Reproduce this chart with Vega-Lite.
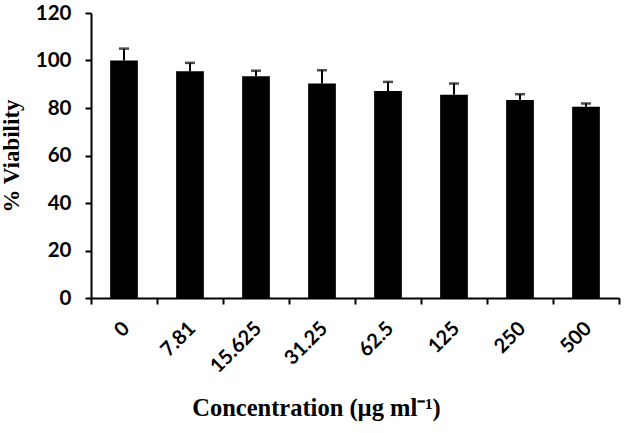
{
  "$schema": "https://vega.github.io/schema/vega-lite/v6.json",
  "autosize": "none",
  "width": 528,
  "height": 285,
  "padding": {"left": 91, "top": 13, "right": 6, "bottom": 135},
  "background": "white",
  "config": {"view": {"stroke": null}},
  "data": {"values": [
    {"conc": "0", "value": 100.0, "upper": 105.0},
    {"conc": "7.81", "value": 95.5, "upper": 99.0},
    {"conc": "15.625", "value": 93.4, "upper": 95.7},
    {"conc": "31.25", "value": 90.3, "upper": 95.9},
    {"conc": "62.5", "value": 87.2, "upper": 91.0},
    {"conc": "125", "value": 85.6, "upper": 90.3},
    {"conc": "250", "value": 83.4, "upper": 85.8},
    {"conc": "500", "value": 80.5, "upper": 81.9}
  ]},
  "encoding": {
    "x": {
      "field": "conc", "type": "nominal", "sort": null,
      "scale": {"paddingInner": 0, "paddingOuter": 0},
      "axis": {
        "title": "Concentration (µg ml⁻¹)",
        "titleFont": "Liberation Serif", "titleFontSize": 24.5, "titleFontWeight": "bold", "titleColor": "black",
        "titleX": 225, "titleY": 110, "titleBaseline": "middle", "titleAnchor": null, "titleAlign": "center",
        "labelAngle": -45, "labelAlign": "right", "labelBaseline": "middle",
        "labelFont": "Lato", "labelFontWeight": "bold", "labelFontSize": 20, "labelColor": "black",
        "labelPadding": 21, "labelOffset": 2,
        "tickBand": "extent", "tickSize": 6, "tickWidth": 2, "tickColor": "black",
        "domainColor": "black", "domainWidth": 2, "grid": false
      }
    }
  },
  "layer": [
    {
      "mark": {"type": "bar", "color": "black", "width": {"band": 0.42}},
      "encoding": {
        "y": {
          "field": "value", "type": "quantitative",
          "scale": {"domain": [0, 120], "nice": false},
          "axis": {
            "title": "% Viability",
            "titleFont": "Liberation Serif", "titleFontSize": 23, "titleFontWeight": "bold", "titleColor": "black",
            "titlePadding": 12,
            "values": [0, 20, 40, 60, 80, 100, 120],
            "labelFont": "Lato", "labelFontWeight": "bold", "labelFontSize": 20.5, "labelColor": "black",
            "labelPadding": 14,
            "tickSize": 6, "tickWidth": 2, "tickColor": "black",
            "domainColor": "black", "domainWidth": 2, "grid": false
          }
        }
      }
    },
    {
      "mark": {"type": "rule", "color": "black", "strokeWidth": 2},
      "encoding": {
        "y": {"field": "value", "type": "quantitative"},
        "y2": {"field": "upper"}
      }
    },
    {
      "mark": {"type": "tick", "color": "black", "thickness": 2.5, "size": 10, "orient": "horizontal"},
      "encoding": {
        "y": {"field": "upper", "type": "quantitative"}
      }
    }
  ]
}
